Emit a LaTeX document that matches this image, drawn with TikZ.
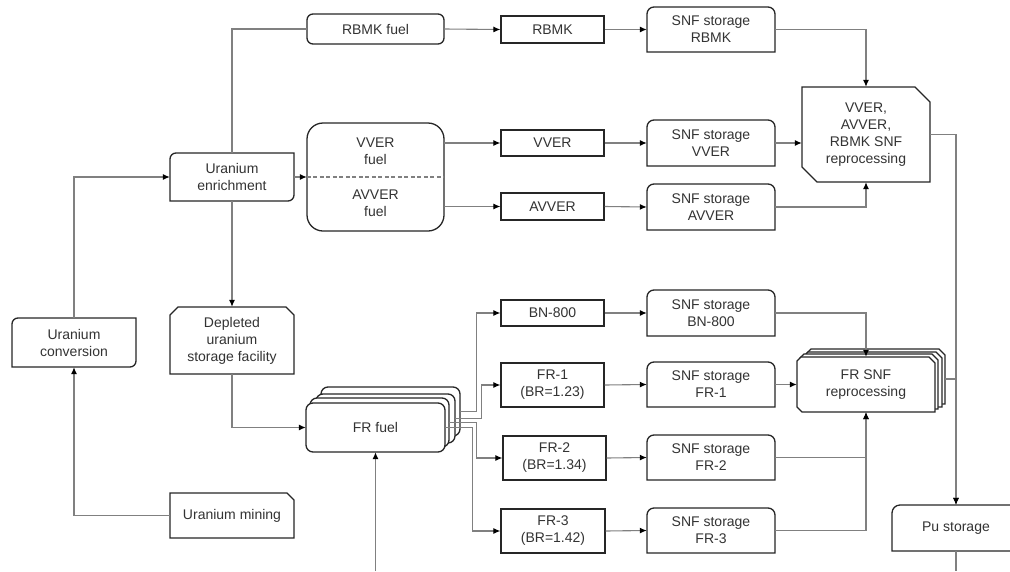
\documentclass[tikz,border=0pt]{standalone}
\usepackage{fontspec}
\setmainfont{Liberation Sans}
\usetikzlibrary{arrows.meta,calc}
\definecolor{txtc}{HTML}{333333}
\definecolor{boxc}{HTML}{262626}
\definecolor{linec}{HTML}{808080}
\tikzset{
 lbl/.style={inner sep=0pt, align=center, font=\fontsize{14}{17}\selectfont, text=txtc},
 boxline/.style={draw=boxc, line width=1.3pt, fill=white, line join=miter},
 plain/.style={draw=boxc, line width=1.2pt, fill=white},
 link/.style={draw=linec, line width=1.1pt},
 conn/.style={link, -{Latex[length=7pt,width=6pt,color=black]}},
}
% node placed by its corners (pixel units)
\newcommand\bx[7][]{\node[lbl,#1,minimum width={(#5-#3)*1pt},minimum height={(#6-#4)*1pt}] (#2) at ({(#3+#5)/2},{(#4+#6)/2}) {#7};}
% outline with per-corner rounding radii: tl tr br bl
\newcommand\rbox[8]{\path[boxline] (#1,#2+#5) .. controls (#1,#2+0.448*#5) and (#1+0.448*#5,#2) .. (#1+#5,#2) -- (#3-#6,#2) .. controls (#3-0.448*#6,#2) and (#3,#2+0.448*#6) .. (#3,#2+#6) -- (#3,#4-#7) .. controls (#3,#4-0.448*#7) and (#3-0.448*#7,#4) .. (#3-#7,#4) -- (#1+#8,#4) .. controls (#1+0.448*#8,#4) and (#1,#4-0.448*#8) .. (#1,#4-#8) -- cycle;}
% outline with per-corner chamfers: tl tr br bl
\newcommand\cbox[8]{\path[boxline] (#1,#2+#5) -- (#1+#5,#2) -- (#3-#6,#2) -- (#3,#2+#6) -- (#3,#4-#7) -- (#3-#7,#4) -- (#1+#8,#4) -- (#1,#4-#8) -- cycle;}
\begin{document}
\begin{tikzpicture}[x=1pt,y=-1pt]
\useasboundingbox (0,0) rectangle (1010,571);
% ---------- outlines ----------
\rbox{170}{153}{294}{201}{6}{0}{6}{0}
\rbox{12}{318}{136}{367}{6}{0}{6}{0}
\cbox{170}{307}{294}{374}{8}{8}{0}{0}
\cbox{170}{493}{294}{538}{0}{7}{0}{0}
\rbox{307}{14}{444}{44}{6}{6}{6}{6}
\rbox{307}{123}{444}{231}{16}{16}{16}{16}
\rbox{647}{7}{775}{52}{7}{7}{0}{0}
\rbox{647}{120}{775}{166}{7}{7}{0}{0}
\rbox{647}{184}{775}{230}{7}{7}{0}{0}
\rbox{647}{290}{775}{336}{7}{7}{0}{0}
\rbox{647}{362}{775}{407}{7}{7}{0}{0}
\rbox{647}{435}{775}{480}{7}{7}{0}{0}
\rbox{647}{508}{775}{553}{7}{7}{0}{0}
\cbox{802}{87}{930}{182}{0}{15}{0}{15}
\rbox{892}{505}{1025}{551}{8}{0}{0}{0}
% FR fuel stack
\rbox{321}{387}{460}{436}{7}{7}{7}{7}
\rbox{316}{394}{455}{443}{7}{7}{7}{7}
\rbox{310}{398}{449}{447}{7}{7}{7}{7}
\rbox{306}{403}{445}{452}{7}{7}{7}{7}
% FR SNF reprocessing stack
\cbox{807}{349}{945}{404}{4}{6}{0}{5}
\cbox{804}{352}{942}{407}{4}{6}{0}{5}
\cbox{800}{354}{938}{409}{4}{6}{0}{5}
\cbox{797}{357}{935}{412}{4}{6}{0}{5}
% ---------- nodes ----------
\bx{en}{170}{153}{294}{201}{Uranium\\enrichment}
\bx{cv}{12}{318}{136}{367}{Uranium\\conversion}
\bx{du}{170}{307}{294}{374}{Depleted\\uranium\\storage facility}
\bx{mi}{170}{493}{294}{538}{Uranium mining}
\bx{rf}{307}{14}{444}{44}{RBMK fuel}
\bx{vf}{307}{123}{444}{231}{}
\node[lbl] (vft) at (375.5,151) {VVER\\fuel};
\node[lbl] (aft) at (375.5,203) {AVVER\\fuel};
\bx[plain]{rb}{501}{16}{604}{43}{RBMK}
\bx[plain]{vv}{501}{130}{604}{156}{VVER}
\bx[plain]{av}{501}{193}{604}{220}{AVVER}
\bx{sr}{647}{7}{775}{52}{SNF storage\\RBMK}
\bx{sv}{647}{120}{775}{166}{SNF storage\\VVER}
\bx{sa}{647}{184}{775}{230}{SNF storage\\AVVER}
\bx{rp}{802}{87}{930}{182}{VVER,\\AVVER,\\RBMK SNF\\reprocessing}
\bx{ff4}{321}{387}{460}{436}{}
\bx{ff3}{316}{394}{455}{443}{}
\bx{ff2}{310}{398}{449}{447}{}
\bx{ff}{306}{403}{445}{452}{FR fuel}
\bx[plain]{bn}{501}{300}{604}{326}{BN-800}
\bx[plain]{f1}{501}{363}{604}{407}{FR-1\\(BR=1.23)}
\bx[plain]{f2}{503}{436}{606}{480}{FR-2\\(BR=1.34)}
\bx[plain]{f3}{501}{509}{605}{553}{FR-3\\(BR=1.42)}
\bx{sb}{647}{290}{775}{336}{SNF storage\\BN-800}
\bx{s1}{647}{362}{775}{407}{SNF storage\\FR-1}
\bx{s2}{647}{435}{775}{480}{SNF storage\\FR-2}
\bx{s3}{647}{508}{775}{553}{SNF storage\\FR-3}
\bx{fr4}{807}{349}{945}{404}{}
\bx{fr}{797}{357}{935}{412}{FR SNF\\reprocessing}
\bx{pu}{892}{505}{1020}{551}{Pu storage}
\coordinate (puout) at (956,571);
\coordinate (ffin) at (375.5,571);
% ---------- connectors ----------
\draw[link, dash pattern=on 4pt off 2.5pt] (vf.west) -- (vf.east);
\draw[conn] (mi.west) -| (cv.south);
\draw[conn] (cv.north) |- (en.west);
\draw[link] (en.north) |- (rf.west);
\draw[conn] (en.east) -- (vf.west);
\draw[conn] (en.south) -- (du.north);
\draw[conn] (du.south) |- (ff.west);
\draw[conn] (rf.east) -- (rb.west);
\draw[conn] (vf.east |- vv.west) -- (vv.west);
\draw[conn] (vf.east |- av.west) -- (av.west);
\draw[conn] (rb.east) -- (sr.west);
\draw[conn] (vv.east) -- (sv.west);
\draw[conn] (av.east) -- (sa.west);
\draw[conn] (sr.east) -| (rp.north);
\draw[conn] (sv.east) -- (sv.east -| rp.west);
\draw[conn] (sa.east) -| (rp.south);
\draw[conn] (rp.east) -| (pu.north);
\draw[link] (pu.south) -- (puout);
\draw[conn] (ffin) -- (ff.south);
\draw[conn] (ff4.east) -| ([xshift=-24pt]bn.west) -- (bn.west);
\draw[conn] (ff3.east) -| ([xshift=-19pt]f1.west) -- (f1.west);
\draw[conn] (ff2.east) -| ([xshift=-26pt]f2.west) -- (f2.west);
\draw[conn] (ff.east) -| ([xshift=-28pt]f3.west) -- (f3.west);
\draw[conn] (bn.east) -- (sb.west);
\draw[conn] (f1.east) -- (s1.west);
\draw[conn] (f2.east) -- (s2.west);
\draw[conn] (f3.east) -- (s3.west);
\draw[conn] (sb.east) -| (fr.north);
\draw[conn] (s1.east) -- (s1.east -| fr.west);
\draw[conn] (s2.east) -| (fr.south);
\draw[conn] (s3.east) -| (fr.south);
\draw[conn] ([yshift=-2.5pt]fr4.east) -| (pu.north);
\end{tikzpicture}
\end{document}
